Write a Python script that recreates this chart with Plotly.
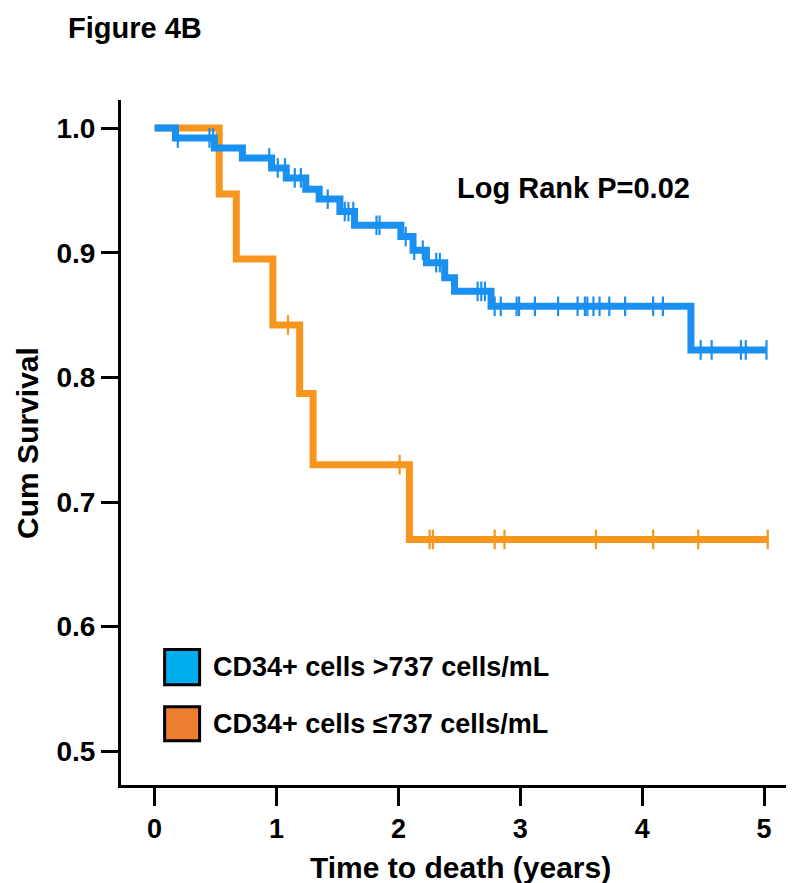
import numpy as np
import plotly.graph_objects as go

# ---------------- data ----------------
# High CD34+ group (> 737 cells/mL): event times (years) and survival after each step
high_times = [0.0, 0.17, 0.49, 0.72, 0.96, 1.08, 1.24, 1.35, 1.52, 1.64, 2.02, 2.12,
              2.23, 2.38, 2.46, 2.76, 4.40]
high_surv = [1.000, 0.992, 0.984, 0.976, 0.968, 0.960, 0.951, 0.943, 0.933, 0.922,
             0.913, 0.902, 0.892, 0.880, 0.869, 0.857, 0.822]
high_end = 5.02
high_censored = [0.19, 0.45, 0.48, 0.94, 1.01, 1.07, 1.15, 1.20, 1.42, 1.56, 1.59,
                 1.63, 1.82, 1.845, 2.06, 2.13, 2.20, 2.31, 2.34, 2.65, 2.68, 2.71,
                 2.79, 2.84, 2.97, 2.99, 3.12, 3.31, 3.47, 3.53, 3.55, 3.60, 3.65,
                 3.73, 3.86, 4.09, 4.17, 4.48, 4.57, 4.81, 4.85, 5.02]

# Low CD34+ group (<= 737 cells/mL)
low_times = [0.0, 0.53, 0.67, 0.97, 1.19, 1.30, 2.09]
low_surv = [1.000, 0.947, 0.895, 0.842, 0.787, 0.730, 0.670]
low_end = 5.03
low_censored = [1.094, 2.01, 2.256, 2.283, 2.79, 2.87, 3.62, 4.09, 4.46, 5.03]

x_ticks = [0, 1, 2, 3, 4, 5]
y_ticks = [0.5, 0.6, 0.7, 0.8, 0.9, 1.0]

series_names = ["CD34+ cells >737 cells/mL", "CD34+ cells \u2264737 cells/mL"]
line_colors = ["#1A90F0", "#F7961E"]
legend_colors = ["#00AEEF", "#ED7D31"]
p_text = "Log Rank P=0.02"


def surv_at(times, surv, t):
    idx = np.searchsorted(np.array(times), np.array(t), side="right") - 1
    return list(np.array(surv)[idx])


fig = go.Figure()

groups = [
    (low_times, low_surv, low_end, low_censored, line_colors[1], series_names[1]),
    (high_times, high_surv, high_end, high_censored, line_colors[0], series_names[0]),
]
for times, surv, end, cens, col, name in groups:
    xs = list(times) + [end]
    ys = list(surv) + [surv[-1]]
    fig.add_trace(go.Scatter(x=xs, y=ys, mode="lines", line_shape="hv",
                             line=dict(color=col, width=7), name=name,
                             showlegend=False, hoverinfo="skip"))
    fig.add_trace(go.Scatter(x=cens, y=surv_at(times, surv, cens), mode="markers",
                             marker=dict(symbol="line-ns", size=14,
                                         line=dict(color=col, width=2.2)),
                             showlegend=False, hoverinfo="skip"))

FONT = "Liberation Sans, Arial, sans-serif"

fig.update_layout(
    width=800, height=883,
    margin=dict(l=113, r=22, t=92, b=106),
    paper_bgcolor="white", plot_bgcolor="white",
    font=dict(family=FONT, color="black"),
    xaxis=dict(range=[-0.276, 5.18], tickvals=x_ticks, ticktext=[str(v) for v in x_ticks],
               showgrid=False, zeroline=False, showline=True, linecolor="black",
               linewidth=3, ticks="outside", ticklen=18, tickwidth=2.5, tickcolor="black",
               tickfont=dict(family=FONT, size=27, color="black", weight="bold")),
    yaxis=dict(range=[0.473, 1.0225], tickvals=y_ticks, ticktext=[f"{v:.1f}" for v in y_ticks],
               showgrid=False, zeroline=False, showline=True, linecolor="black",
               linewidth=3, ticks="outside", ticklen=17, tickwidth=2.5, tickcolor="black",
               tickfont=dict(family=FONT, size=28, color="black", weight="bold")),
)

# legend drawn as boxes + text
box_rows = [(0.5816, 0.5535), (0.5357, 0.5084)]
for (y1, y0), col, name in zip(box_rows, legend_colors, series_names):
    fig.add_shape(type="rect", xref="x", yref="y", x0=0.082, x1=0.369, y0=y0, y1=y1,
                  fillcolor=col, line=dict(color="black", width=3))
    fig.add_annotation(x=0.464, y=(y0 + y1) / 2, xref="x", yref="y", text=name,
                       showarrow=False, xanchor="left", yanchor="middle",
                       font=dict(family=FONT, size=27, color="black", weight="bold"))

fig.add_annotation(x=3.44, y=0.952, xref="x", yref="y", text=p_text, showarrow=False,
                   xanchor="center", yanchor="middle",
                   font=dict(family=FONT, size=29, color="black", weight="bold"))

fig.add_annotation(x=-0.14, y=0.4993, xref="paper", yref="paper", text="Cum Survival",
                   textangle=-90, showarrow=False, xanchor="center", yanchor="middle",
                   font=dict(family=FONT, size=30, color="black", weight="bold"))
fig.add_annotation(x=0.51, y=-0.12, xref="paper", yref="paper",
                   text="Time to death (years)", showarrow=False,
                   xanchor="center", yanchor="middle",
                   font=dict(family=FONT, size=30, color="black", weight="bold"))
fig.add_annotation(x=-0.0827, y=1.105, xref="paper", yref="paper", text="Figure 4B",
                   showarrow=False, xanchor="left", yanchor="middle",
                   font=dict(family=FONT, size=29, color="black", weight="bold"))

fig.write_html("out.html")
